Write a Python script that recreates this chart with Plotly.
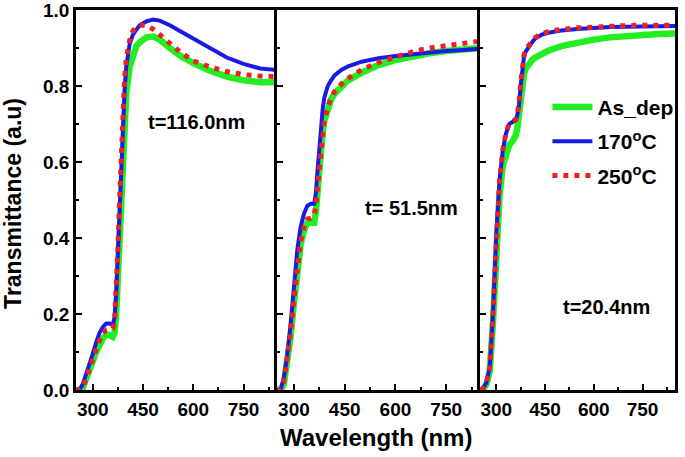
import plotly.graph_objects as go

# ---------------- data ----------------
wl1 = [250,260,270,280,290,300,310,320,330,340,350,360,365,370,375,380,385,390,395,400,
       410,420,430,440,460,480,500,530,560,600,650,700,750,800,850]
as_dep_1 = [0,0,0.005,0.025,0.05,0.075,0.1,0.12,0.135,0.145,0.145,0.14,0.15,0.2,0.3,0.42,0.54,0.64,0.72,0.78,
            0.85,0.885,0.905,0.915,0.928,0.93,0.922,0.9,0.88,0.86,0.84,0.825,0.815,0.81,0.81]
c170_1 = [0,0,0.015,0.04,0.065,0.095,0.125,0.15,0.165,0.175,0.175,0.172,0.19,0.25,0.36,0.48,0.6,0.71,0.79,0.85,
          0.91,0.935,0.95,0.96,0.97,0.975,0.972,0.96,0.945,0.925,0.9,0.875,0.858,0.846,0.842]
c250_1 = [0,0,0.005,0.03,0.055,0.085,0.11,0.13,0.148,0.158,0.16,0.162,0.18,0.25,0.37,0.5,0.63,0.74,0.82,0.87,
          0.92,0.945,0.955,0.96,0.96,0.95,0.935,0.91,0.89,0.866,0.85,0.838,0.83,0.826,0.825]

wl2 = [250,260,270,280,290,300,310,320,330,340,350,360,365,370,375,380,385,390,400,410,420,
       440,460,500,550,600,650,700,750,800,850]
as_dep_2 = [0,0,0.015,0.07,0.14,0.23,0.32,0.385,0.42,0.44,0.44,0.44,0.47,0.53,0.59,0.64,0.68,0.71,0.745,0.765,0.78,
            0.8,0.815,0.835,0.855,0.868,0.878,0.886,0.892,0.896,0.9]
c170_2 = [0,0,0.03,0.09,0.17,0.28,0.37,0.43,0.465,0.485,0.49,0.49,0.52,0.58,0.64,0.69,0.74,0.77,0.8,0.815,0.828,
          0.842,0.852,0.864,0.873,0.879,0.884,0.888,0.892,0.895,0.898]
c250_2 = [0,0,0.02,0.08,0.15,0.24,0.33,0.39,0.43,0.45,0.452,0.46,0.49,0.54,0.59,0.635,0.68,0.71,0.745,0.77,0.785,
          0.805,0.82,0.843,0.862,0.877,0.89,0.9,0.907,0.913,0.918]

wl3 = [252,260,270,280,290,300,310,320,330,340,350,360,365,370,375,380,385,390,400,410,420,
       440,460,500,550,600,650,700,750,800,850]
as_dep_3 = [0,0.003,0.015,0.05,0.18,0.38,0.51,0.59,0.625,0.645,0.655,0.67,0.69,0.73,0.77,0.805,0.83,0.845,0.86,0.868,0.875,
            0.885,0.893,0.905,0.915,0.922,0.928,0.932,0.935,0.937,0.938]
c170_3 = [0,0.005,0.02,0.06,0.2,0.41,0.55,0.63,0.675,0.7,0.705,0.71,0.725,0.75,0.8,0.85,0.875,0.89,0.905,0.915,0.925,
          0.935,0.94,0.946,0.95,0.953,0.955,0.956,0.957,0.958,0.958]
c250_3 = [0,0.005,0.02,0.06,0.2,0.41,0.55,0.632,0.677,0.702,0.707,0.712,0.728,0.755,0.805,0.855,0.88,0.894,0.909,0.919,0.928,
          0.938,0.943,0.949,0.953,0.956,0.958,0.959,0.96,0.96,0.96]

series_names = ["As_dep", "170<sup>o</sup>C", "250<sup>o</sup>C"]
thickness_labels = ["t=116.0nm", "t= 51.5nm", "t=20.4nm"]
x_ticks = [300, 450, 600, 750]
y_ticks = [0.0, 0.2, 0.4, 0.6, 0.8, 1.0]

panels = [
    (wl1, [as_dep_1, c170_1, c250_1]),
    (wl2, [as_dep_2, c170_2, c250_2]),
    (wl3, [as_dep_3, c170_3, c250_3]),
]

# ---------------- styles ----------------
FONT = "Liberation Sans, Arial, sans-serif"
styles = [
    dict(color="#22ee22", width=6.5, dash="solid"),
    dict(color="#1a1ae6", width=4, dash="solid"),
    dict(color="#f02020", width=5, dash="5px,6px"),
]

fig = go.Figure()
for p, (wl, ys) in enumerate(panels):
    xa = "x" if p == 0 else f"x{p+1}"
    ya = "y" if p == 0 else f"y{p+1}"
    for s, y in enumerate(ys):
        fig.add_trace(go.Scatter(
            x=wl, y=y, mode="lines", name=series_names[s],
            line=styles[s], xaxis=xa, yaxis=ya,
            showlegend=(p == 0), legendgroup=f"g{s}",
        ))

domains = [[0, 0.3356], [0.3356, 0.6745], [0.6745, 1.0]]
annot_pos = [(611, 0.705), (648, 0.479), (638, 0.218)]

axis_common = dict(
    showline=True, linecolor="black", linewidth=2.5,
    ticks="inside", ticklen=6, tickwidth=2, tickcolor="black",
    showgrid=False, zeroline=False, automargin=False,
    ticklabeloverflow="allow",
    tickfont=dict(family=FONT, size=19, color="black", weight="bold"),
)

layout = dict(
    template="none",
    width=685, height=457,
    margin=dict(l=76, r=10, t=10, b=67, autoexpand=False),
    paper_bgcolor="white", plot_bgcolor="white",
    font=dict(family=FONT, color="black"),
    showlegend=True,
    legend=dict(
        x=0.787, y=0.798, xanchor="left", yanchor="top",
        font=dict(family=FONT, size=21, color="black", weight="bold"),
        bgcolor="rgba(0,0,0,0)", borderwidth=0,
        traceorder="grouped", tracegroupgap=4, itemwidth=40,
    ),
    annotations=[],
)

for p in range(3):
    xk = "xaxis" if p == 0 else f"xaxis{p+1}"
    yk = "yaxis" if p == 0 else f"yaxis{p+1}"
    layout[xk] = dict(
        axis_common, domain=domains[p], range=[250, 850], mirror=True,
        tickvals=x_ticks, ticktext=[str(v) for v in x_ticks],
        minor=dict(ticks="inside", ticklen=3, tickwidth=2, tickcolor="black", dtick=75, tick0=300),
        anchor="y" if p == 0 else f"y{p+1}",
    )
    layout[yk] = dict(
        axis_common, domain=[0, 1], range=[0, 1.0], mirror=(p == 2),
        tickvals=y_ticks, ticktext=[f"{v:.1f}" for v in y_ticks],
        showticklabels=(p == 0),
        minor=dict(ticks="inside", ticklen=3, tickwidth=2, tickcolor="black", dtick=0.1, tick0=0),
        anchor="x" if p == 0 else f"x{p+1}",
    )
    layout["annotations"].append(dict(
        x=annot_pos[p][0], y=annot_pos[p][1],
        xref="x" if p == 0 else f"x{p+1}", yref="y" if p == 0 else f"y{p+1}",
        text=thickness_labels[p], showarrow=False,
        font=dict(family=FONT, size=20, color="black", weight="bold"),
    ))

layout["annotations"].append(dict(
    x=0.5, y=-0.124, xref="paper", yref="paper", yanchor="middle", xanchor="center",
    text="Wavelength (nm)", showarrow=False,
    font=dict(family=FONT, size=24, color="black", weight="bold"),
))
layout["annotations"].append(dict(
    x=-0.105, y=0.49, xref="paper", yref="paper", yanchor="middle", xanchor="center",
    text="Transmittance (a.u)", showarrow=False, textangle=-90,
    font=dict(family=FONT, size=23, color="black", weight="bold"),
))

fig.update_layout(**layout)
fig.write_html("out.html", config={"displayModeBar": False},
               post_script="document.body.style.margin='0px';")
